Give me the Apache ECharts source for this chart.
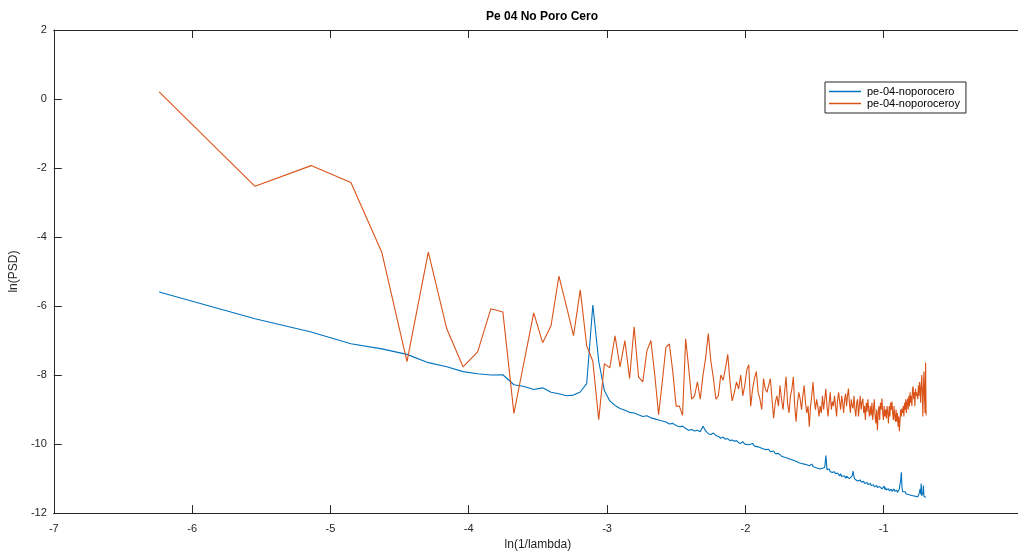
<!DOCTYPE html>
<html>
<head>
<meta charset="utf-8">
<script src="https://cdn.jsdelivr.net/npm/echarts@6/dist/echarts.min.js"></script>
<style>
html,body{margin:0;padding:0;background:#fff;overflow:hidden;width:1018px;height:556px;}
#chart{width:1030px;height:556px;}
</style>
</head>
<body>
<div id="chart"></div>
<script>
const titleText = 'Pe 04 No Poro Cero';
const xName = 'ln(1/lambda)';
const yName = 'ln(PSD)';
const seriesNames = ['pe-04-noporocero', 'pe-04-noporoceroy'];
// samples are at frequency index k = 1..256, x = ln(k/512)
const sampleCount = 256;
const sampleDenominator = 512;

const blueY = [
-5.59,-6.37,-6.75,-7.09,-7.24,-7.40,-7.64,-7.76,-7.90,-7.96,
-8.00,-7.99,-8.28,-8.33,-8.42,-8.37,-8.50,-8.54,-8.60,-8.58,
-8.49,-8.25,-5.97,-7.60,-8.45,-8.75,-8.88,-8.97,-9.02,-9.08,
-9.10,-9.15,-9.20,-9.18,-9.24,-9.27,-9.30,-9.33,-9.36,-9.42,
-9.40,-9.46,-9.50,-9.48,-9.55,-9.60,-9.58,-9.62,-9.60,-9.64,
-9.48,-9.62,-9.70,-9.72,-9.68,-9.75,-9.78,-9.83,-9.80,-9.86,
-9.84,-9.90,-9.88,-9.92,-9.90,-9.96,-9.98,-9.93,-10.00,-9.97,
-10.02,-10.04,-9.98,-10.06,-10.03,-10.08,-10.07,-10.12,-10.10,-10.16,
-10.20,-10.15,-10.22,-10.25,-10.20,-10.28,-10.33,-10.27,-10.30,-10.35,
-10.32,-10.38,-10.36,-10.41,-10.38,-10.44,-10.42,-10.47,-10.45,-10.50,
-10.48,-10.54,-10.50,-10.56,-10.53,-10.58,-10.55,-10.60,-10.57,-10.63,
-10.60,-10.58,-10.65,-10.62,-10.68,-10.65,-10.70,-10.66,-10.72,-10.75,
-10.70,-10.73,-10.68,-10.33,-10.74,-10.78,-10.72,-10.80,-10.76,-10.82,
-10.85,-10.80,-10.86,-10.90,-10.84,-10.88,-10.92,-10.86,-10.94,-10.90,
-10.96,-10.92,-10.99,-10.93,-10.97,-10.94,-11.00,-10.96,-10.98,-10.92,
-10.78,-10.95,-11.02,-11.05,-11.01,-11.07,-11.03,-11.08,-11.04,-11.10,
-11.06,-11.12,-11.08,-11.14,-11.10,-11.15,-11.11,-11.17,-11.12,-11.18,
-11.14,-11.20,-11.16,-11.21,-11.18,-11.24,-11.19,-11.25,-11.20,-11.26,
-11.22,-11.28,-11.23,-11.28,-11.24,-11.30,-11.25,-11.31,-11.22,-11.32,
-11.26,-11.33,-11.28,-11.34,-11.29,-11.35,-11.30,-11.36,-11.31,-11.37,
-11.32,-11.38,-11.30,-11.37,-11.33,-11.39,-11.34,-11.40,-11.35,-11.36,
-11.30,-11.15,-11.05,-10.82,-11.25,-11.38,-11.42,-11.37,-11.43,-11.38,
-11.44,-11.39,-11.45,-11.40,-11.46,-11.41,-11.47,-11.42,-11.48,-11.43,
-11.49,-11.44,-11.50,-11.45,-11.50,-11.46,-11.51,-11.47,-11.52,-11.48,
-11.53,-11.49,-11.52,-11.40,-11.30,-11.45,-11.14,-11.50,-11.54,-11.42,
-11.20,-11.52,-11.55,-11.50,-11.56,-11.54
];

const orangeY = [
0.21,-2.53,-1.93,-2.42,-4.44,-7.61,-4.44,-6.66,-7.76,-7.33,
-6.08,-6.17,-9.11,-7.60,-6.20,-7.06,-6.57,-5.13,-6.00,-6.86,
-5.53,-7.15,-7.60,-9.29,-7.67,-7.79,-6.86,-7.76,-7.00,-8.10,
-6.60,-8.05,-8.20,-7.30,-7.00,-8.00,-9.15,-8.20,-7.20,-7.10,
-7.90,-8.90,-8.90,-9.17,-6.95,-7.80,-8.70,-8.60,-8.20,-8.70,
-8.00,-7.50,-6.80,-7.60,-8.10,-8.70,-8.60,-8.00,-8.15,-7.80,
-7.40,-8.20,-8.75,-8.50,-8.20,-8.40,-8.00,-8.60,-8.30,-7.85,
-7.70,-8.90,-8.40,-8.10,-7.90,-8.50,-8.70,-9.00,-8.10,-8.40,
-8.50,-8.30,-8.10,-8.70,-9.25,-8.80,-8.60,-8.90,-8.30,-8.70,
-9.00,-8.50,-8.05,-8.80,-9.10,-8.60,-8.40,-8.05,-8.90,-9.35,
-8.80,-8.50,-8.70,-9.00,-8.60,-8.30,-8.80,-9.10,-8.90,-9.50,
-8.90,-8.60,-8.20,-8.70,-9.00,-8.70,-8.90,-9.20,-8.90,-9.10,
-8.60,-9.00,-8.70,-8.40,-8.90,-9.20,-8.80,-8.50,-9.00,-8.77,
-8.90,-8.60,-8.90,-9.20,-8.70,-8.50,-8.77,-9.00,-8.60,-8.80,
-9.10,-8.70,-8.54,-8.90,-8.60,-8.39,-8.80,-9.10,-8.70,-8.90,
-8.97,-8.60,-9.00,-9.20,-8.80,-8.70,-9.20,-8.90,-8.60,-9.00,
-8.80,-8.68,-9.10,-8.90,-9.30,-8.80,-9.06,-8.70,-9.00,-9.20,
-8.90,-9.17,-8.80,-9.30,-9.00,-8.70,-9.20,-9.40,-9.00,-9.60,
-9.10,-8.90,-9.30,-8.80,-9.00,-8.68,-9.10,-9.30,-8.90,-9.20,
-9.00,-9.26,-8.90,-9.10,-9.40,-8.90,-9.20,-8.80,-9.00,-8.77,
-9.10,-9.30,-8.90,-9.20,-9.35,-9.00,-9.35,-9.10,-9.50,-9.20,
-9.63,-9.30,-9.00,-9.20,-8.97,-9.10,-8.90,-9.20,-8.80,-9.00,
-8.70,-9.10,-8.80,-8.68,-9.00,-8.60,-8.90,-8.50,-8.80,-8.60,
-8.90,-8.40,-8.33,-8.70,-8.50,-8.90,-8.40,-8.60,-8.50,-8.48,
-8.70,-8.30,-8.60,-8.20,-8.39,-8.80,-8.30,-8.00,-8.50,-9.20,
-8.40,-7.90,-8.60,-9.10,-7.64,-9.17
];

const xTickMin = -7, xTickMax = 0, xTickStep = 1;
const yTickMin = -12, yTickMax = 2, yTickStep = 2;

const xs = [];
for (let k = 1; k <= sampleCount; k++) xs.push(Math.log(k / sampleDenominator));
const bluePts = blueY.map((v, i) => [xs[i], v]);
const orangePts = orangeY.map((v, i) => [xs[i], v]);

const FONT = 'Liberation Sans, Arial, Helvetica, sans-serif';
const AX = '#262626';

const chart = echarts.init(document.getElementById('chart'), null, {renderer: 'canvas'});
chart.setOption({
  animation: false,
  backgroundColor: '#ffffff',
  title: {
    text: titleText,
    left: 537, top: 6, textAlign: 'center',
    textStyle: {fontFamily: FONT, fontSize: 12, fontWeight: 'bold', color: '#000'}
  },
  legend: {
    orient: 'vertical',
    left: 825, top: 82,
    padding: [4, 6, 4, 4],
    itemGap: 1,
    itemWidth: 32, itemHeight: 1.5,
    icon: 'rect',
    borderColor: AX, borderWidth: 1,
    backgroundColor: '#fff',
    textStyle: {fontFamily: FONT, fontSize: 11, color: '#000', padding: [0, 0, 0, 1]},
    data: seriesNames
  },
  grid: {left: 52.5, right: 8, top: 30, bottom: 41, containLabel: false},
  xAxis: [{
    type: 'value', min: xTickMin, max: xTickMax, interval: xTickStep,
    position: 'bottom',
    name: xName, nameLocation: 'middle', nameGap: 25,
    nameTextStyle: {fontFamily: FONT, fontSize: 12, color: AX},
    axisLine: {show: true, onZero: false, lineStyle: {color: AX, width: 1}},
    axisTick: {show: true, inside: true, length: 8, lineStyle: {color: AX}},
    axisLabel: {fontFamily: FONT, fontSize: 11, color: AX, margin: 10},
    splitLine: {show: false}
  }, {
    type: 'value', min: xTickMin, max: xTickMax, interval: xTickStep,
    position: 'top',
    axisLine: {show: true, onZero: false, lineStyle: {color: AX, width: 1}},
    axisTick: {show: true, inside: true, length: 8, lineStyle: {color: AX}},
    axisLabel: {show: false},
    splitLine: {show: false}
  }],
  yAxis: [{
    type: 'value', min: yTickMin, max: yTickMax, interval: yTickStep,
    position: 'left',
    name: yName, nameLocation: 'middle', nameGap: 33,
    nameTextStyle: {fontFamily: FONT, fontSize: 12, color: AX},
    axisLine: {show: true, onZero: false, lineStyle: {color: AX, width: 1}},
    axisTick: {show: true, inside: true, length: 8, lineStyle: {color: AX}},
    axisLabel: {fontFamily: FONT, fontSize: 11, color: AX, margin: 7},
    splitLine: {show: false}
  }],
  series: [{
    name: seriesNames[0], type: 'line', xAxisIndex: 0, yAxisIndex: 0,
    data: bluePts, showSymbol: false, symbol: 'none',
    lineStyle: {color: '#0072BD', width: 1.1},
    itemStyle: {color: '#0072BD'}
  }, {
    name: seriesNames[1], type: 'line', xAxisIndex: 0, yAxisIndex: 0,
    data: orangePts, showSymbol: false, symbol: 'none',
    lineStyle: {color: '#D95319', width: 1.1},
    itemStyle: {color: '#D95319'}
  }]
});
</script>
</body>
</html>
